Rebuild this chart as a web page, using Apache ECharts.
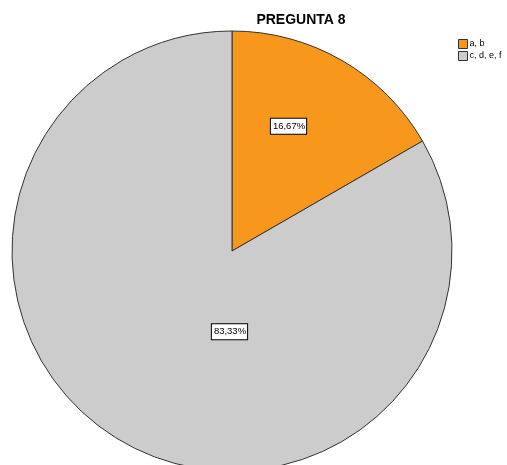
<!DOCTYPE html>
<html>
<head>
<meta charset="utf-8">
<script src="https://cdn.jsdelivr.net/npm/echarts@6/dist/echarts.min.js"></script>
<style>
  html, body { margin: 0; padding: 0; background: #fff; }
  #chart { width: 507px; height: 465px; }
</style>
</head>
<body>
<div id="chart"></div>
<script>
// categories and values (percent)
const categories = ['a, b', 'c, d, e, f'];
const values = [16.67, 83.33];
const colors = ['#F7981D', '#CCCCCC'];
// nudges so the labels sit where SPSS put them
const labelOffsets = [[0, -27], [54, -17]];

const chart = echarts.init(document.getElementById('chart'));

const option = {
  animation: false,
  title: {
    text: 'PREGUNTA 8',
    left: 296,
    textAlign: 'center',
    top: 8,
    textStyle: {
      fontFamily: 'Liberation Sans',
      fontSize: 14,
      fontWeight: 'bold',
      color: '#000'
    }
  },
  legend: {
    orient: 'vertical',
    left: 453,
    top: 34,
    itemWidth: 9,
    itemHeight: 9,
    itemGap: 2,
    icon: 'rect',
    data: categories,
    itemStyle: { borderColor: '#333', borderWidth: 1 },
    textStyle: { fontFamily: 'Liberation Sans', fontSize: 9, color: '#000', padding: [0, 0, 0, -3] }
  },
  series: [{
    type: 'pie',
    center: [232, 251],
    radius: 220,
    startAngle: 90,
    clockwise: true,
    silent: true,
    itemStyle: { borderColor: '#333', borderWidth: 1 },
    label: {
      show: true,
      position: 'inside',
      fontFamily: 'Liberation Sans',
      fontSize: 9.5,
      color: '#000',
      backgroundColor: '#fff',
      borderColor: '#000',
      borderWidth: 1,
      padding: [3, 1, 2, 2],
      formatter: function (p) {
        return p.value.toFixed(2).replace('.', ',') + '%';
      }
    },
    labelLine: { show: false },
    data: categories.map(function (c, i) {
      return {
        name: c,
        value: values[i],
        itemStyle: { color: colors[i] },
        label: { offset: labelOffsets[i] }
      };
    })
  }]
};

chart.setOption(option);
</script>
</body>
</html>
